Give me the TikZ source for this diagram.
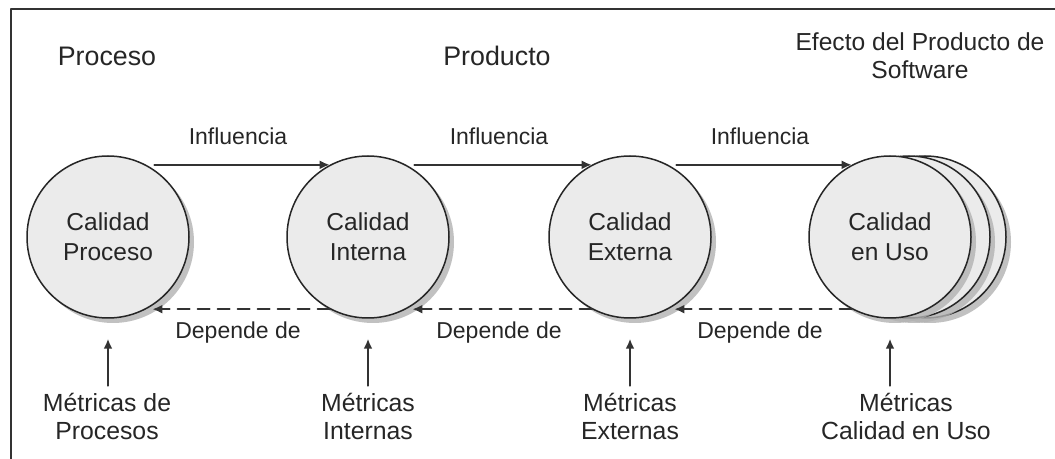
\documentclass[tikz,border=0pt]{standalone}
\usepackage{fontspec}
\setmainfont{Liberation Sans}
\usetikzlibrary{positioning,shadows,arrows.meta}

\begin{document}
\begin{tikzpicture}[x=0.5pt, y=-0.5pt, >={Latex[length=5pt,width=4.5pt]}, line cap=round, line join=round,
	calidad/.style={circle, draw=black!85, line width=0.75pt, fill=black!8, text=black!85,
		minimum size=81pt, inner sep=0pt, align=center, font=\fontsize{12.25}{15}\selectfont,
		drop shadow={shadow xshift=2.5pt, shadow yshift=-2.5pt, fill=black!30, opacity=0.8}},
	titulo/.style={text=black!85, align=center, font=\fontsize{13.4}{14}\selectfont},
	etiqueta/.style={text=black!85, font=\fontsize{11.5}{13}\selectfont},
	metrica/.style={text=black!85, align=center, font=\fontsize{12.4}{14}\selectfont},
	flecha/.style={->, line width=1.1pt, draw=black!80},
	depende/.style={->, dashed, dash pattern=on 6pt off 4pt, line width=1pt, draw=black!80}]
		\useasboundingbox (0,0) rectangle (1055,459);
		\draw[line width=1pt, black!80] (11,459) -- (11,9) -- (1055,9);
		
		% encabezados
		\node[titulo] (proceso) at (107,56) {Proceso};
		\node[titulo] (producto) at (497,56) {Producto};
		\node[titulo, font=\fontsize{12.3}{14}\selectfont] (efecto) at (920,56) {Efecto del Producto de\\Software};
		
		% calidades
		\node[calidad] (cp) at (108,237) {Calidad\\Proceso};
		\node[calidad] (ci) at (368,237) {Calidad\\Interna};
		\node[calidad] (ce) at (630,237) {Calidad\\Externa};
		\node[calidad] (cu3) at (925,237) {};
		\node[calidad] (cu2) at (909,237) {};
		\node[calidad] (cu) at (890,237) {Calidad\\en Uso};
		
		% influencia
		\draw[flecha, shorten <=4pt] (cp.62) -- node[etiqueta, above=6pt] {Influencia} (ci.118);
		\draw[flecha, shorten <=4pt] (ci.62) -- node[etiqueta, above=6pt] {Influencia} (ce.118);
		\draw[flecha, shorten <=4pt] (ce.62) -- node[etiqueta, above=6pt] {Influencia} (cu.118);
		
		% dependencia
		\draw[depende, shorten >=3pt] (ci.242) -- node[etiqueta, below=2.5pt] {Depende de} (cp.-62);
		\draw[depende, shorten >=3pt] (ce.242) -- node[etiqueta, below=2.5pt] {Depende de} (ci.-62);
		\draw[depende, shorten >=3pt] (cu.242) -- node[etiqueta, below=2.5pt] {Depende de} (ce.-62);
		
		% metricas
		\node[metrica] (mp) at (107,416) {Métricas de\\Procesos};
		\node[metrica] (mi) at (368,416) {Métricas\\Internas};
		\node[metrica] (me) at (630,416) {Métricas\\Externas};
		\node[metrica] (mu) at (906,416) {Métricas\\Calidad en Uso};
		
		\draw[flecha, shorten >=10pt] (mp.north -| cp) -- (cp.south);
		\draw[flecha, shorten >=10pt] (mi.north -| ci) -- (ci.south);
		\draw[flecha, shorten >=10pt] (me.north -| ce) -- (ce.south);
		\draw[flecha, shorten >=10pt] (mu.north -| cu) -- (cu.south);
	\end{tikzpicture}
\end{document}
